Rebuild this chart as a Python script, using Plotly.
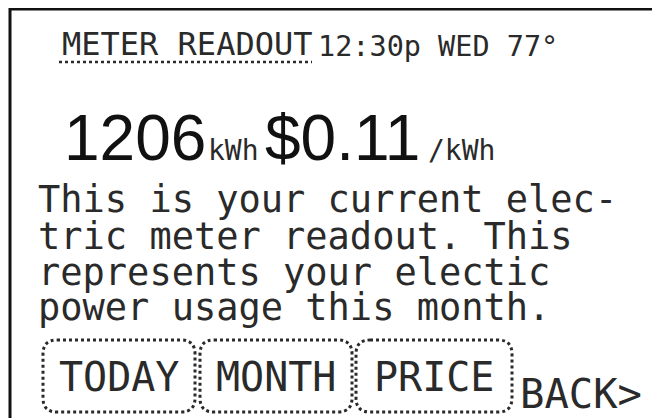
import plotly.graph_objects as go

# ---- data ----
title_text = "METER READOUT"
status_text = "12:30p WED 77°"
usage_value = "1206"
usage_unit = "kWh"
price_value = "$0.11"
price_unit = "/kWh"
body_lines = [
    "This is your current elec-",
    "tric meter readout. This",
    "represents your electic",
    "power usage this month.",
]
button_labels = ["TODAY", "MONTH", "PRICE"]
back_label = "BACK>"

W, H = 660, 418
OFF = 8  # page body margin of the html page
MONO = "DejaVu Sans Mono"
SANS = "'Liberation Sans', Arial, sans-serif"
INK = "#2a2a2a"

fig = go.Figure()
fig.add_trace(go.Scatter(x=[0, W], y=[0, H], mode="markers",
                         marker=dict(opacity=0), hoverinfo="skip", showlegend=False))

ann = []
def text(s, x, y, size, family=MONO, xanchor="left", color=INK):
    ann.append(dict(text=s, x=x, y=y, xref="x", yref="y", xanchor=xanchor,
                    yanchor="middle", showarrow=False, borderpad=0,
                    font=dict(family=family, size=size, color=color)))

# header
text(title_text, 61, 44, 32)
text(status_text, 317, 46, 28.5)
# big readouts
text(usage_value, 63, 137.5, 64, family=SANS, color="#111")
text(usage_unit, 207, 150, 28)
text(price_value, 264, 137.5, 64, family=SANS, color="#111")
text(price_unit, 427, 150, 28)
# body text
body_y = [199.5, 236, 272, 307]
for line, yy in zip(body_lines, body_y):
    text(line, 37, yy, 37)

# buttons
shapes = []
def rrect(x0, y0, x1, y1, r):
    return (f"M{x0+r},{y0} L{x1-r},{y0} Q{x1},{y0} {x1},{y0+r} "
            f"L{x1},{y1-r} Q{x1},{y1} {x1-r},{y1} L{x0+r},{y1} "
            f"Q{x0},{y1} {x0},{y1-r} L{x0},{y0+r} Q{x0},{y0} {x0+r},{y0} Z")

btn_x = [(43, 195), (200, 352), (356, 512)]
for (x0, x1), lab in zip(btn_x, button_labels):
    shapes.append(dict(type="path", path=rrect(x0, 340, x1, 412, 14), xref="x", yref="y",
                       line=dict(color=INK, width=3, dash="dot")))
    text(lab, (x0 + x1) / 2, 377, 40, xanchor="center")
text(back_label, 519, 394, 40.5)

# underline for title
shapes.append(dict(type="line", x0=59, x1=312, y0=62, y1=62, xref="x", yref="y",
                   line=dict(color=INK, width=2.5, dash="dot")))
# frame
shapes.append(dict(type="line", x0=10, x1=10, y0=8, y1=H + 20, xref="x", yref="y",
                   line=dict(color="#111", width=3)))
shapes.append(dict(type="line", x0=9, x1=W + 20, y0=9.2, y1=9.2, xref="x", yref="y",
                   line=dict(color="#111", width=2.5)))

fig.update_layout(
    width=W, height=H, margin=dict(l=0, r=0, t=0, b=0),
    paper_bgcolor="white", plot_bgcolor="white",
    xaxis=dict(range=[OFF, W + OFF], visible=False, fixedrange=True),
    yaxis=dict(range=[H + OFF, OFF], visible=False, fixedrange=True),
    annotations=ann, shapes=shapes, showlegend=False,
)
fig.write_html("out.html")
